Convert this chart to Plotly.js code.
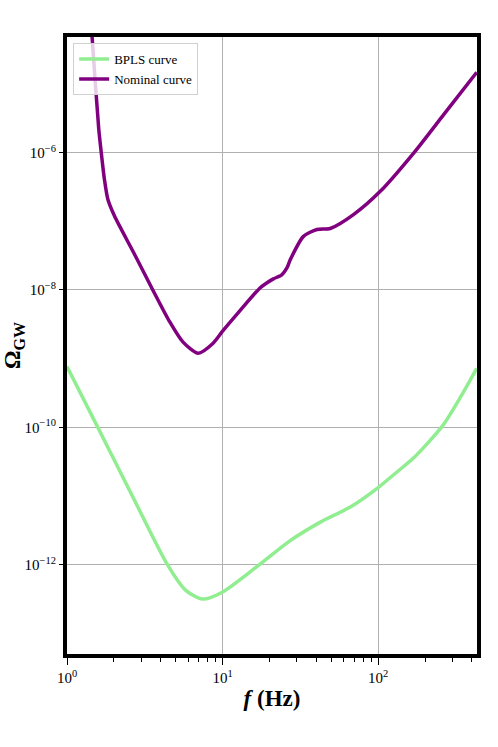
<!DOCTYPE html>
<html>
<head>
<meta charset="utf-8">
<script src="https://cdn.plot.ly/plotly-3.0.1.min.js"></script>
<style>body{margin:0;background:#fff}#plot{width:498px;height:747px}</style>
</head>
<body>
<div id="plot"></div>
<script>
// frequencies (Hz) and Omega_GW
const bplsFreq = [1.0, 1.56, 2.62, 4.42, 5.8, 7.43, 9.95, 17.0, 27.2, 42.5, 66.2, 100, 132, 170, 259, 340, 430];
const bplsOmega = [7.67e-10, 1.05e-10, 1.02e-11, 1.0e-12, 4.22e-13, 3.16e-13, 3.98e-13, 9.77e-13,
                   2.24e-12, 4.17e-12, 6.92e-12, 1.33e-11, 2.24e-11, 3.63e-11, 1.05e-10, 2.82e-10, 7.24e-10];

const nomFreq = [1.42, 1.45, 1.6, 1.66, 1.74, 1.83, 2.02, 2.7, 3.56, 4.56, 5.57, 6.97, 8.69, 10, 12.3,
                 17.4, 19.2, 21.2, 24.0, 25.9, 27.2, 33.1, 40.4, 49.2, 69.7, 103.5, 170, 265, 430];
const nomOmega = [1e-4, 4.79e-5, 2.19e-6, 1.0e-6, 4.07e-7, 2.09e-7, 1.19e-7, 3.39e-8, 1.0e-8, 3.47e-9,
                  1.74e-9, 1.20e-9, 1.68e-9, 2.51e-9, 4.37e-9, 1.07e-8, 1.26e-8, 1.45e-8, 1.66e-8,
                  2.09e-8, 2.75e-8, 6.03e-8, 7.59e-8, 7.85e-8, 1.26e-7, 2.75e-7, 1.0e-6, 3.63e-6, 1.48e-5];

const xTickVals = [1, 10, 100];
const xTickText = ['10<sup>0</sup>', '10<sup>1</sup>', '10<sup>2</sup>'];
const xMinor = [2, 3, 4, 5, 6, 7, 8, 9, 20, 30, 40, 50, 60, 70, 80, 90, 200, 300, 400];
const yTickVals = [1e-6, 1e-8, 1e-10, 1e-12];
const yTickText = ['10<sup>\u22126</sup>', '10<sup>\u22128</sup>', '10<sup>\u221210</sup>', '10<sup>\u221212</sup>'];

const serif = 'Liberation Serif, DejaVu Serif, serif';

const data = [
  {
    x: bplsFreq, y: bplsOmega, mode: 'lines', name: 'BPLS curve',
    line: {color: '#90ee90', width: 3.5, shape: 'spline', smoothing: 0.7}
  },
  {
    x: nomFreq, y: nomOmega, mode: 'lines', name: 'Nominal curve',
    line: {color: '#800080', width: 3.5, shape: 'spline', smoothing: 0.7}
  }
];

const layout = {
  width: 498, height: 747,
  margin: {l: 67, r: 21, t: 37, b: 93},
  paper_bgcolor: '#fff', plot_bgcolor: '#fff',
  font: {family: serif, color: '#000', size: 15},
  showlegend: true,
  legend: {
    x: 0.015, y: 0.99, xanchor: 'left', yanchor: 'top',
    bgcolor: 'rgba(255,255,255,0.8)', bordercolor: '#d0d0d0', borderwidth: 1,
    font: {family: serif, size: 13}, tracegroupgap: 0
  },
  xaxis: {
    type: 'log', range: [0, 2.635],
    tickmode: 'array', tickvals: xTickVals, ticktext: xTickText,
    ticks: 'outside', ticklen: 7, tickwidth: 1, tickcolor: '#000',
    minor: {tickmode: 'array', tickvals: xMinor, ticks: 'outside', ticklen: 4, tickcolor: '#000', showgrid: false},
    showgrid: true, gridcolor: '#b0b0b0', gridwidth: 1,
    showline: true, linecolor: '#000', linewidth: 4, mirror: true,
    zeroline: false,
    title: {text: '<b><i>f</i> (Hz)</b>', font: {family: serif, size: 23}, standoff: 6}
  },
  yaxis: {
    type: 'log', range: [-13.30, -4.317],
    tickmode: 'array', tickvals: yTickVals, ticktext: yTickText,
    ticks: 'outside', ticklen: 4, tickwidth: 1, tickcolor: '#000',
    showgrid: true, gridcolor: '#b0b0b0', gridwidth: 1,
    showline: true, linecolor: '#000', linewidth: 4, mirror: true,
    zeroline: false,
    title: {text: '<b>\u03a9<sub>GW</sub></b>', font: {family: serif, size: 23}, standoff: 4}
  }
};

Plotly.newPlot('plot', data, layout, {displayModeBar: false, staticPlot: true});
</script>
</body>
</html>
